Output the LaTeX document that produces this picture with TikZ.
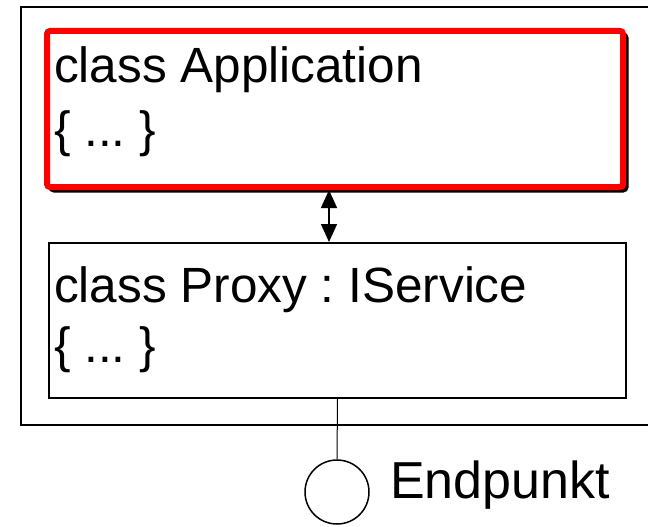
\documentclass[tikz,border=0pt]{standalone}
\usepackage{fontspec}
\setmainfont{Liberation Sans}
\usetikzlibrary{arrows.meta,positioning}
\frenchspacing

\begin{document}
\begin{tikzpicture}[x=1pt, y=-1pt, >={Triangle[length=18pt,width=16pt]},
    classbox/.style={draw, line width=2pt, inner sep=0pt},
    activebox/.style={classbox, draw=red, line width=6pt, rounded corners=3pt, fill=white},
    codeline/.style={anchor=base west, inner sep=0pt, font=\fontsize{49.5}{60}\selectfont}]

    %% Background
    \useasboundingbox (0,0) rectangle (648,527);

    %% component frame (open to the right)
    \draw[line width=2pt] (670,7) -- (21,7) -- (21,425) -- (670,425);

    %% shadow behind the active class
    \draw[line width=5pt, rounded corners=3pt] (51,35) rectangle (626,190);
    \node[activebox, minimum width=576pt, minimum height=156pt] (app) at (335,109) {};
    \node[codeline] (appHead) at (54,82) {class Application};
    \node[codeline] (appBody) at (54,146) {\{ ... \}};

    \node[classbox, minimum width=577pt, minimum height=155pt] (proxy) at (337.5,320.5) {};
    \node[codeline] (proxyHead) at (54,302) {class Proxy : IService};
    \node[codeline] (proxyBody) at (54,362) {\{ ... \}};

    \draw[<->, line width=1.5pt] ([xshift=-6pt]app.south) -- ([xshift=-6pt]app.south |- proxy.north);

    %% endpoint
    \node[circle, draw, line width=1.5pt, minimum size=64pt, inner sep=0pt] (ep) at (337,492) {};
    \node[codeline, font=\fontsize{52}{60}\selectfont] (epLabel) at (390,498) {Endpunkt};
    \draw[line width=1pt] (proxy.south) -- (ep.north);

\end{tikzpicture}
\end{document}
